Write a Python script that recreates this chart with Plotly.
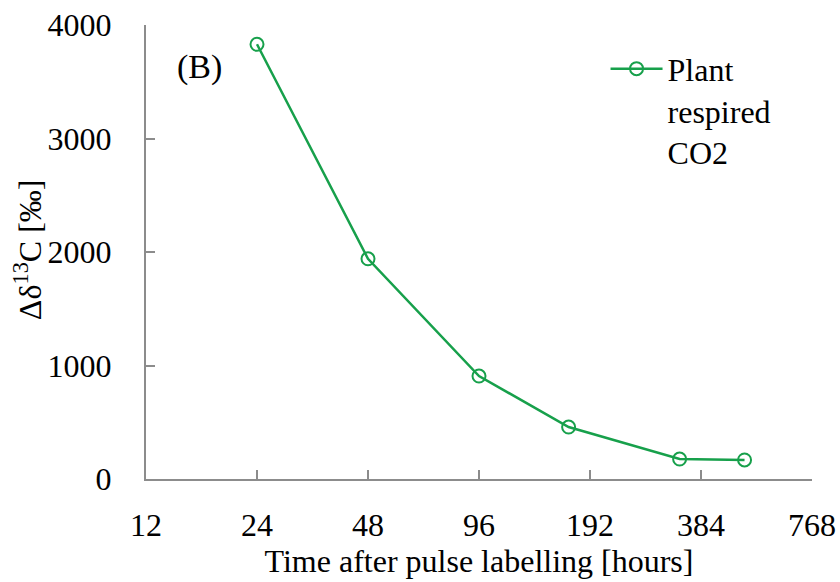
import plotly.graph_objects as go
import numpy as np

hours = [24, 48, 96, 168, 336, 504]
delta = [3830, 1940, 907, 458, 176, 168]
x_ticks = [12, 24, 48, 96, 192, 384, 768]
y_ticks = [0, 1000, 2000, 3000, 4000]

green = "#17a04b"
axis_col = "#8c8c8c"
font = "Liberation Serif, Times New Roman, serif"
fs = 32

fig = go.Figure()
fig.add_trace(go.Scatter(
    x=hours, y=delta, mode="lines+markers",
    name="Plant<br>respired<br>CO2",
    line=dict(color=green, width=2.5),
    marker=dict(symbol="circle-open", size=13, color=green, line=dict(width=2, color=green)),
))

fig.update_layout(
    width=840, height=582,
    margin=dict(l=146, r=28, t=25, b=103, autoexpand=False),
    paper_bgcolor="white", plot_bgcolor="white",
    font=dict(family=font, size=fs, color="black"),
    showlegend=True,
    legend=dict(x=0.69, y=0.964, xanchor="left", yanchor="top",
                bgcolor="rgba(0,0,0,0)", font=dict(size=fs, family=font, color="black"),
                itemwidth=52, tracegroupgap=0, valign="top"),
    xaxis=dict(type="log", range=[np.log10(12), np.log10(768)],
               tickvals=x_ticks, ticktext=[str(v) for v in x_ticks],
               ticks="inside", ticklen=9, tickwidth=2, tickcolor=axis_col,
               showline=True, linecolor=axis_col, linewidth=2,
               showgrid=False, zeroline=False, automargin=False,
               ticklabelstandoff=17,
               tickfont=dict(size=fs, family=font),
               title=dict(text="Time after pulse labelling [hours]", standoff=6,
                          font=dict(size=fs, family=font))),
    yaxis=dict(range=[0, 4000], tickvals=y_ticks,
               ticks="inside", ticklen=9, tickwidth=2, tickcolor=axis_col,
               showline=True, linecolor=axis_col, linewidth=2,
               showgrid=False, zeroline=False, automargin=False,
               ticklabelstandoff=26,
               tickfont=dict(size=fs, family=font)),
    annotations=[
        dict(text="(B)", xref="paper", yref="paper", x=0.043, y=0.907,
             xanchor="left", yanchor="middle", showarrow=False,
             font=dict(size=fs + 2, family=font)),
        dict(text="Δδ<sup>13</sup>C [‰]", xref="paper", yref="paper",
             x=-0.178, y=0.505, xanchor="center", yanchor="middle",
             textangle=-90, showarrow=False, font=dict(size=fs, family=font)),
    ],
)

fig.write_html("out.html")
